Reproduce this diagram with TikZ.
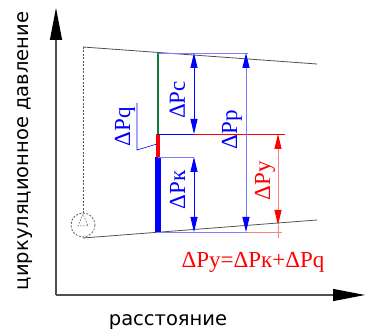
\documentclass[tikz,border=0pt]{standalone}
\usepackage{fontspec}
\setmainfont{Liberation Serif}
\newfontfamily\gostfont{DejaVu Sans}
\usetikzlibrary{arrows.meta}
\definecolor{dblue}{HTML}{0000FF}
\definecolor{eblue}{HTML}{8080FF}
\definecolor{dred}{HTML}{FF0000}
\definecolor{ered}{HTML}{FF8080}
\definecolor{pgreen}{HTML}{107A3A}
\definecolor{lgrey}{HTML}{505050}
\tikzset{
  axis/.style={draw=lgrey, line width=1.1pt, -{Triangle[length=32pt, width=12pt, color=black]}},
  level/.style={draw=lgrey, line width=0.8pt},
  ext/.style={draw=#1, line width=0.9pt},
  dim/.style={draw=#1, line width=0.9pt},
  dimtips/.style={{Triangle[length=15pt, width=7pt, color=#1]}-{Triangle[length=15pt, width=7pt, color=#1]}},
  dimlabel/.style={text=#1, font=\fontsize{23}{23}\selectfont, rotate=90, inner sep=0pt},
  axlabel/.style={font=\gostfont\fontsize{19.5}{20}\selectfont, inner sep=0pt},
}
\begin{document}
\begin{tikzpicture}[x=1pt, y=-1pt]
  \useasboundingbox (0,0) rectangle (365,334);
  % axes
  \coordinate (o) at (56,295);
  \draw[axis] (o) -- (56,8);
  \draw[axis] (o) -- (365,295);
  \node[axlabel, rotate=90] (ylab) at (25,151) {циркуляционное давление};
  \node[axlabel] (xlab) at (168,322) {расстояние};
  % pressure levels
  \draw[level] (83,47) -- (317,64);
  \draw[level] (83,238) -- (317,220);
  \draw[lgrey, line width=0.6pt, dashed, dash pattern=on 2pt off 1.5pt] (83,47) -- (83,213);
  \draw[lgrey, line width=0.7pt, dash pattern=on 2pt off 1.5pt] (83,225) circle[radius=12];
  \draw[lgrey, line width=0.5pt, dash pattern=on 1.5pt off 1.5pt] (83,214) -- (78,226) -- (88,226) -- cycle;
  % column
  \draw[pgreen, line width=2.6pt] (158,52) -- (158,134);
  \draw[dred, line width=4.5pt] (158,134) -- (158,157);
  \draw[dblue, line width=5.5pt] (158,157) -- (158,232);
  % extension lines
  \draw[ext=eblue] (158,53) -- (248,53);
  \draw[ext=dblue] (158,134) -- (194,134);
  \draw[ext=dred] (194,134) -- (285,134);
  \draw[ext=eblue] (158,157) -- (194,157);
  \draw[ext=eblue] (158,232) -- (247,232);
  \draw[ext=ered] (247,232) -- (282,232);
  \draw[ext=ered] (278,225) -- (278,238);
  % dimensions
  \draw[dim=dblue, dimtips=dblue] (194,53) -- (194,134);
  \draw[dim=dblue, dimtips=dblue] (194,157) -- (194,232);
  \draw[dim=eblue, dimtips=dblue] (246,53) -- (246,232);
  \draw[dim=ered, dimtips=dred] (278,134) -- (278,225);
  \draw[ext=dblue, line width=0.6pt] (137,103) -- (137,150) -- (157,144);
  \node[dimlabel=dblue] (pc) at (177.5,100) {ΔPс};
  \node[dimlabel=dblue] (pk) at (177.5,190) {ΔPк};
  \node[dimlabel=dblue] (pq) at (125,127) {ΔPq};
  \node[dimlabel=dblue] (pp) at (232,130) {ΔPр};
  \node[dimlabel=dred] (py) at (265,181) {ΔPу};
  \node[text=dred, font=\fontsize{23}{23}\selectfont, inner sep=0pt] (sum) at (253,262) {ΔPу=ΔPк+ΔPq};
\end{tikzpicture}
\end{document}
